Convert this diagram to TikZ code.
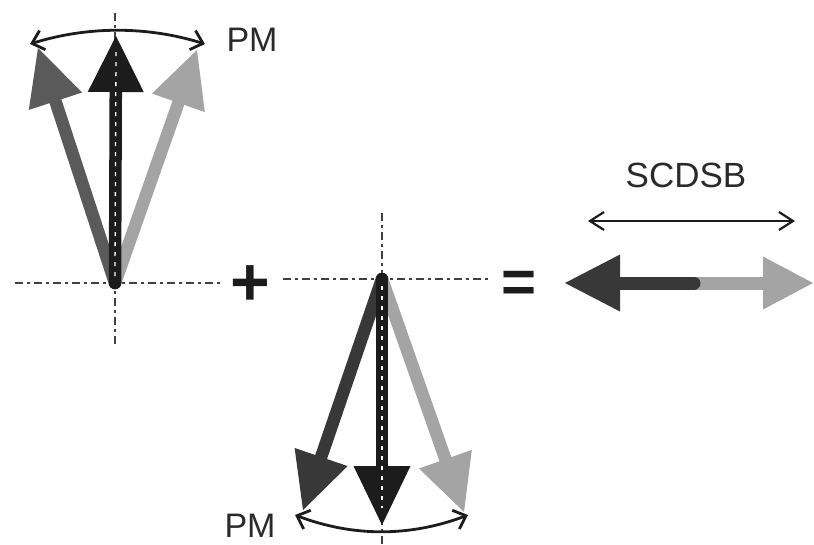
\documentclass[tikz,border=0pt]{standalone}
\usepackage{fontspec}
\setmainfont{Liberation Sans}
\usetikzlibrary{arrows.meta}

\definecolor{vdark}{HTML}{1C1C1C}
\definecolor{vmid}{HTML}{5A5A5A}
\definecolor{vdarkgray}{HTML}{383838}
\definecolor{vlight}{HTML}{A4A4A4}
\definecolor{axisgray}{HTML}{404040}
\definecolor{inkgray}{HTML}{2A2A2A}

\tikzset{
  axis/.style={axisgray, line width=2pt, dash pattern=on 8pt off 4pt on 3pt off 4pt},
  vec/.style={line width=12.5pt, line cap=round,
    -{Triangle[length=56pt, width=56pt, line width=0pt]}},
  vecdown/.style={line width=12.5pt, line cap=round,
    -{Triangle[length=59pt, width=57pt, line width=0pt]}},
  overlay dash/.style={white, line width=1.3pt, dash pattern=on 4pt off 6pt},
  swing/.style={vdark, line width=2.8pt,
    {Straight Barb[length=11pt, width=20pt]}-{Straight Barb[length=11pt, width=20pt]}},
  span/.style={vdark, line width=2.2pt,
    {Straight Barb[length=14pt, width=18pt]}-{Straight Barb[length=14pt, width=18pt]}},
  lbl/.style={inner sep=0pt, font=\fontsize{34}{40}\selectfont, text=inkgray},
  op/.style={inner sep=0pt, text=vdark},
}

\begin{document}
\begin{tikzpicture}[x=1pt, y=-1pt]
  \useasboundingbox (0,0) rectangle (814,544);

  % ---- upper fan ----
  \coordinate (O1) at (115,283);
  \coordinate (T1l) at (38,48);
  \coordinate (T1c) at (116,36);
  \coordinate (T1r) at (197,50);
  \coordinate (H1a) at (15,283);
  \coordinate (H1b) at (222,283);
  \coordinate (V1a) at (115,13);
  \coordinate (V1b) at (115,345);
  \draw[axis] (H1a) -- (H1b);
  \draw[axis] (V1a) -- (V1b);
  \draw[vec, vlight] (O1) -- (T1r);
  \draw[vec, vmid] (O1) -- (T1l);
  \draw[vec, vdark] (O1) -- (T1c);
  \coordinate (W1a) at (115,276);
  \coordinate (W1b) at (116,52);
  \draw[overlay dash] (W1a) -- (W1b);

  \coordinate (A1) at (30,44);
  \coordinate (B1) at (205,44);
  \draw[swing] (A1) .. controls (88,26) and (147,26) .. (B1);
  \node[lbl] (pmtop) at (252,40) {PM};

  % ---- plus sign ----
  \node[op, font=\fontsize{68}{68}\selectfont\bfseries] (plus) at (250.5,286) {+};

  % ---- lower fan ----
  \coordinate (O2) at (382,279);
  \coordinate (T2l) at (303,510);
  \coordinate (T2c) at (382,525);
  \coordinate (T2r) at (464,512);
  \coordinate (H2a) at (283,279);
  \coordinate (H2b) at (488,279);
  \coordinate (V2a) at (382,213);
  \coordinate (V2b) at (382,544);
  \draw[axis] (H2a) -- (H2b);
  \draw[axis] (V2a) -- (V2b);
  \draw[vec, vlight] (O2) -- (T2r);
  \draw[vec, vdarkgray] (O2) -- (T2l);
  \draw[vecdown, vdark] (O2) -- (T2c);
  \coordinate (W2a) at (382,286);
  \coordinate (W2b) at (382,508);
  \draw[overlay dash] (W2a) -- (W2b);

  \coordinate (A2) at (295,515);
  \coordinate (B2) at (468,515);
  \draw[swing] (A2) .. controls (353,537) and (410,537) .. (B2);
  \node[lbl] (pmbottom) at (250,526) {PM};

  % ---- equals sign ----
  \node[op, font=\fontsize{60}{60}\selectfont\bfseries] (eq) at (519,287) {=};

  % ---- resulting double-sided vector ----
  \coordinate (Mr) at (690,283);
  \coordinate (Ml) at (694,283);
  \coordinate (R) at (813,283);
  \coordinate (L) at (565,283);
  \draw[line width=13pt, vlight, -{Triangle[length=50pt, width=53pt, line width=0pt]}] (Mr) -- (R);
  \draw[line width=13pt, line cap=round, vdarkgray, -{Triangle[length=55pt, width=57pt, line width=0pt]}] (Ml) -- (L);

  \coordinate (S1) at (588,221);
  \coordinate (S2) at (795,221);
  \draw[span] (S1) -- (S2);
  \node[lbl, font=\fontsize{35}{40}\selectfont] (scdsb) at (686,175) {SCDSB};
\end{tikzpicture}
\end{document}
